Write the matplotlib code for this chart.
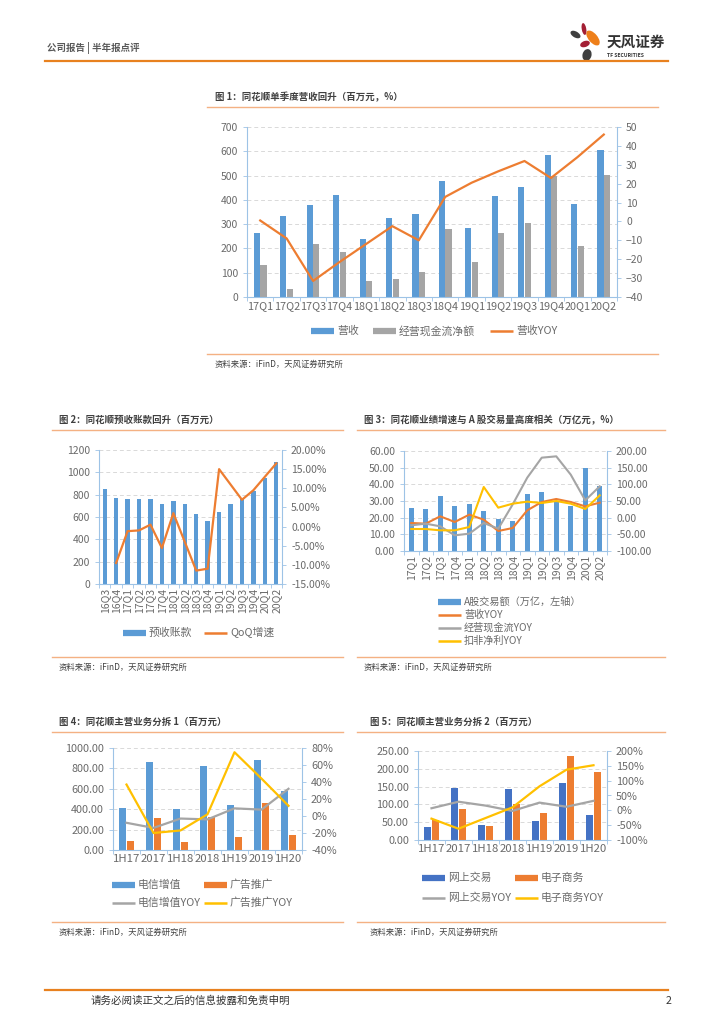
import matplotlib
matplotlib.use('Agg')
import matplotlib.pyplot as plt
from matplotlib.patches import Ellipse
from matplotlib.ticker import FuncFormatter, MultipleLocator
import numpy as np

plt.rcParams['font.family'] = ['Noto Sans CJK SC', 'DejaVu Sans']

W, H = 724, 1024
BLUE = '#5B9BD5'
DARK_BLUE = '#4472C4'
GRAY = '#A5A5A5'
ORANGE = '#ED7D31'
YELLOW = '#FFC000'
RULE = '#F4B183'
TXT = '#6A6A6A'
AXIS = '#9DC3E6'
GRID = '#D9D9D9'

# 图1 单季度营收
quarters_1 = ['17Q1', '17Q2', '17Q3', '17Q4', '18Q1', '18Q2', '18Q3',
              '18Q4', '19Q1', '19Q2', '19Q3', '19Q4', '20Q1', '20Q2']
revenue_1 = [265, 335, 380, 422, 237, 327, 342, 477, 286, 414, 452, 586, 384, 607]
cashflow_1 = [133, 35, 220, 187, 67, 76, 104, 278, 145, 262, 305, 500, 208, 504]
revenue_yoy_1 = [0.5, -9, -31.5, -21.5, -12, -2.5, -10, 13, 20.5, 26.5, 32, 23, 34, 46]

# 图2 预收账款
quarters_2 = ['16Q3', '16Q4', '17Q1', '17Q2', '17Q3', '17Q4', '18Q1', '18Q2',
              '18Q3', '18Q4', '19Q1', '19Q2', '19Q3', '19Q4', '20Q1', '20Q2']
advance_2 = [855, 770, 762, 757, 760, 718, 745, 713, 630, 562, 647, 718, 757, 835, 945, 1095]
advance_qoq_2 = [np.nan, -9.5, -1.2, -1.0, 0.5, -5.6, 3.5, -4.0, -11.5, -11.0,
                 15.0, 11.0, 7.0, 9.5, 13.0, 16.5]

# 图3 A股交易额与增速
quarters_3 = quarters_1
turnover_3 = [26, 25.5, 33, 27, 28, 24, 19, 18, 34, 35.5, 30, 27, 50, 39]
revenue_yoy_3 = [-16, -18, 4, -13, 9, -6, -40, -31, 22, 47, 56, 47, 34, 45]
cashflow_yoy_3 = [-23, -18, -26, -53, -48, -16, -33, 40, 120, 180, 184, 129, 52, 94]
profit_yoy_3 = [-34, -34, -38, -38, -28, 92, 30, 42, 48, 44, 50, 42, 26, 67]

# 图4/图5 主营业务拆分
periods = ['1H17', '2017', '1H18', '2018', '1H19', '2019', '1H20']
telecom_4 = [415, 860, 405, 820, 440, 885, 580]
ads_4 = [90, 315, 75, 320, 130, 460, 150]
telecom_yoy_4 = [-8, -14, -3, -4, 9, 7.5, 32]
ads_yoy_4 = [37, -20, -17, 2, 75, 44, 12]
trading_5 = [37, 147, 43, 143, 54, 160, 71]
ecommerce_5 = [57, 88, 40, 100, 75, 235, 190]
trading_yoy_5 = [7, 29, 16, -2, 26, 12, 32]
ecommerce_yoy_5 = [-28, -62, -26, 10, 81, 137, 152]


def px_axes(fig, x0, y0, x1, y1):
    return fig.add_axes([x0 / W, 1 - y1 / H, (x1 - x0) / W, (y1 - y0) / H])


def style_axes(ax, ax2, n, fs):
    for a in (ax, ax2):
        for s in a.spines.values():
            s.set_visible(False)
        a.tick_params(axis='y', colors=TXT, labelsize=fs, length=3, width=0.6)
        a.tick_params(axis='y', color=AXIS)
    ax.spines['left'].set_visible(True)
    ax.spines['left'].set_color(AXIS)
    ax2.spines['right'].set_visible(True)
    ax2.spines['right'].set_color(AXIS)
    ax.spines['bottom'].set_visible(True)
    ax.spines['bottom'].set_color(AXIS)
    ax.grid(axis='y', color=GRID, ls=(0, (4, 3)), lw=0.7)
    ax.set_axisbelow(True)
    ax.set_xlim(-0.5, n - 0.5)
    ax.set_xticks(np.arange(-0.5, n, 1.0), minor=True)
    ax.tick_params(axis='x', which='minor', length=3, color=AXIS, width=0.6)
    ax.tick_params(axis='x', which='major', length=0, colors=TXT, labelsize=fs, pad=3)
    ax2.tick_params(axis='x', which='both', length=0)


def fmt(pattern):
    return FuncFormatter(lambda v, p: pattern.format(v))


def frame(ov, x0, x1, title, y_title, y_src, tx):
    ov.text(tx, y_title, title, fontsize=6.8, fontweight='bold', color='#404040', va='center')
    ov.plot([x0, x1], [y_title + 10, y_title + 10], color=RULE, lw=1.0)
    ov.plot([x0, x1], [y_src, y_src], color=RULE, lw=1.0)
    ov.text(tx, y_src + 10, '资料来源：iFinD，天风证券研究所', fontsize=6, color='#404040', va='center')


def legend_item(ov, x, y, color, lw, label, fs=7.8, length=23):
    ov.plot([x, x + length], [y, y], color=color, lw=lw, solid_capstyle='butt')
    ov.text(x + length + 3, y, label, fontsize=fs, color=TXT, va='center')


fig = plt.figure(figsize=(W / 100, H / 100), dpi=100)
ov = fig.add_axes([0, 0, 1, 1])
ov.set_xlim(0, W)
ov.set_ylim(H, 0)
ov.axis('off')

# page header / footer
ov.text(47, 48, '公司报告 | 半年报点评', fontsize=6.8, fontweight='bold', color='#595959', va='center')
ov.plot([45, 668], [61, 61], color='#E8811F', lw=1.6)
for (cx, cy, w, h, ang, c) in [(584, 29, 4.5, 12, -10, '#A31F34'), (575.5, 34.5, 11, 6, 30, '#3F3F3F'),
                               (593, 38, 9, 18, -40, '#EE7F1A'), (585, 44, 10, 6, -20, '#A31F34'),
                               (587, 55, 9, 12, 15, '#3F3F3F')]:
    ov.add_patch(Ellipse((cx, cy), w, h, angle=ang, color=c, lw=0))
ov.text(607, 42, '天风证券', fontsize=10.5, fontweight='bold', color='#333333', va='center')
ov.text(607, 55.5, 'TF SECURITIES', fontsize=3.6, fontweight='bold', color='#333333', va='center')
ov.plot([45, 668], [990, 990], color='#E8811F', lw=1.6)
ov.text(91, 1001, '请务必阅读正文之后的信息披露和免责申明', fontsize=7.6, color='#333333', va='center')
ov.text(666, 1001, '2', fontsize=7.6, color='#333333', va='center')

# ---- 图1
frame(ov, 207, 658, '图 1：同花顺单季度营收回升（百万元，%）', 97, 354, 215)
ax = px_axes(fig, 247, 127, 617, 297)
ax2 = ax.twinx()
x = np.arange(len(quarters_1))
ax.bar(x - 0.125, revenue_1, 0.23, color=BLUE)
ax.bar(x + 0.125, cashflow_1, 0.23, color=GRAY)
ax2.plot(x, revenue_yoy_1, color=ORANGE, lw=1.6)
style_axes(ax, ax2, len(quarters_1), 7.5)
ax.set_ylim(0, 700)
ax.yaxis.set_major_locator(MultipleLocator(100))
ax2.set_ylim(-40, 50)
ax2.yaxis.set_major_locator(MultipleLocator(10))
ax.set_xticks(x)
ax.set_xticklabels(quarters_1, fontsize=7.8)
legend_item(ov, 311, 331, BLUE, 4.5, '营收')
legend_item(ov, 373, 331, GRAY, 4.5, '经营现金流净额')
legend_item(ov, 490, 331, ORANGE, 1.8, '营收YOY')

# ---- 图2
frame(ov, 52, 343, '图 2：同花顺预收账款回升（百万元）', 420, 657, 59)
ax = px_axes(fig, 99, 450, 282, 584)
ax2 = ax.twinx()
x = np.arange(len(quarters_2))
ax.bar(x, advance_2, 0.38, color=BLUE)
ax2.plot(x, advance_qoq_2, color=ORANGE, lw=1.6)
style_axes(ax, ax2, len(quarters_2), 7.5)
ax.set_ylim(0, 1200)
ax.yaxis.set_major_locator(MultipleLocator(200))
ax2.set_ylim(-15, 20)
ax2.yaxis.set_major_locator(MultipleLocator(5))
ax2.yaxis.set_major_formatter(fmt('{:.2f}%'))
ax.set_xticks(x)
ax.set_xticklabels(quarters_2, rotation=90, fontsize=7.5)
legend_item(ov, 123, 633, BLUE, 4.5, '预收账款')
legend_item(ov, 204, 633, ORANGE, 1.8, 'QoQ增速')

# ---- 图3
frame(ov, 357, 665, '图 3：同花顺业绩增速与 A 股交易量高度相关（万亿元，%）', 420, 657, 364)
ax = px_axes(fig, 404, 451, 607, 551)
ax2 = ax.twinx()
x = np.arange(len(quarters_3))
ax.bar(x, turnover_3, 0.36, color=BLUE)
ax2.plot(x, revenue_yoy_3, color=ORANGE, lw=1.5)
ax2.plot(x, cashflow_yoy_3, color=GRAY, lw=1.5)
ax2.plot(x, profit_yoy_3, color=YELLOW, lw=1.5)
style_axes(ax, ax2, len(quarters_3), 7.5)
ax.set_ylim(0, 60)
ax.yaxis.set_major_locator(MultipleLocator(10))
ax.yaxis.set_major_formatter(fmt('{:.2f}'))
ax2.set_ylim(-100, 200)
ax2.yaxis.set_major_locator(MultipleLocator(50))
ax2.yaxis.set_major_formatter(fmt('{:.2f}'))
ax.set_xticks(x)
ax.set_xticklabels(quarters_3, rotation=90, fontsize=7.5)
legend_item(ov, 438, 602, BLUE, 4.5, 'A股交易额（万亿，左轴）', fs=7.3)
legend_item(ov, 438, 615, ORANGE, 1.8, '营收YOY', fs=7.3)
legend_item(ov, 438, 628, GRAY, 1.8, '经营现金流YOY', fs=7.3)
legend_item(ov, 438, 641, YELLOW, 1.8, '扣非净利YOY', fs=7.3)

# ---- 图4
frame(ov, 52, 343, '图 4：同花顺主营业务分拆 1（百万元）', 722, 922, 59)
ax = px_axes(fig, 113, 748, 302, 850)
ax2 = ax.twinx()
x = np.arange(len(periods))
ax.bar(x - 0.14, telecom_4, 0.24, color=BLUE)
ax.bar(x + 0.14, ads_4, 0.24, color=ORANGE)
ax2.plot(x, telecom_yoy_4, color=GRAY, lw=1.6)
ax2.plot(x, ads_yoy_4, color=YELLOW, lw=1.6)
style_axes(ax, ax2, len(periods), 7.8)
ax.set_ylim(0, 1000)
ax.yaxis.set_major_locator(MultipleLocator(200))
ax.yaxis.set_major_formatter(fmt('{:.2f}'))
ax2.set_ylim(-40, 80)
ax2.yaxis.set_major_locator(MultipleLocator(20))
ax2.yaxis.set_major_formatter(fmt('{:.0f}%'))
ax.set_xticks(x)
ax.set_xticklabels(periods, fontsize=8.2)
legend_item(ov, 112, 885, BLUE, 4.5, '电信增值')
legend_item(ov, 204, 885, ORANGE, 4.5, '广告推广')
legend_item(ov, 112, 903, GRAY, 1.8, '电信增值YOY')
legend_item(ov, 204, 903, YELLOW, 1.8, '广告推广YOY')

# ---- 图5
frame(ov, 357, 665, '图 5：同花顺主营业务分拆 2（百万元）', 722, 922, 370)
ax = px_axes(fig, 418, 751, 607, 840)
ax2 = ax.twinx()
ax.bar(x - 0.14, trading_5, 0.24, color=DARK_BLUE)
ax.bar(x + 0.14, ecommerce_5, 0.24, color=ORANGE)
ax2.plot(x, trading_yoy_5, color=GRAY, lw=1.6)
ax2.plot(x, ecommerce_yoy_5, color=YELLOW, lw=1.6)
style_axes(ax, ax2, len(periods), 7.8)
ax.set_ylim(0, 250)
ax.yaxis.set_major_locator(MultipleLocator(50))
ax.yaxis.set_major_formatter(fmt('{:.2f}'))
ax2.set_ylim(-100, 200)
ax2.yaxis.set_major_locator(MultipleLocator(50))
ax2.yaxis.set_major_formatter(fmt('{:.0f}%'))
ax.set_xticks(x)
ax.set_xticklabels(periods, fontsize=8.2)
legend_item(ov, 422, 878, DARK_BLUE, 4.5, '网上交易')
legend_item(ov, 515, 878, ORANGE, 4.5, '电子商务')
legend_item(ov, 422, 898, GRAY, 1.8, '网上交易YOY')
legend_item(ov, 515, 898, YELLOW, 1.8, '电子商务YOY')

fig.savefig('out.png', dpi=100)
